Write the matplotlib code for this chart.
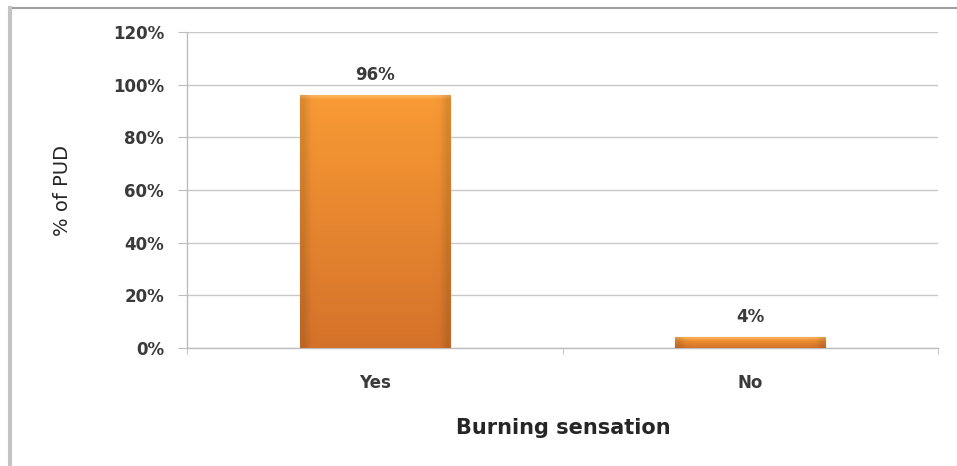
import numpy as np
import matplotlib
matplotlib.use("Agg")
import matplotlib.pyplot as plt
from matplotlib.lines import Line2D
from matplotlib.colors import to_rgb

categories = ["Yes", "No"]
values = [96, 4]
y_ticks = [0, 20, 40, 60, 80, 100, 120]
y_tick_labels = ["0%", "20%", "40%", "60%", "80%", "100%", "120%"]

plt.rcParams["font.family"] = ["DejaVu Sans"]

W, H, DPI = 957, 466, 100
fig = plt.figure(figsize=(W / DPI, H / DPI), dpi=DPI)
ax = fig.add_axes([187 / W, 1 - 348 / H, (938 - 187) / W, (348 - 32) / H])

x = np.arange(len(categories))
bar_w = 0.4
bars = ax.bar(x, values, width=bar_w, color="#F08A2E", edgecolor="#C8651E",
              linewidth=0.8, zorder=3)

# vertical gradient fill with a light bevel at the top
top_c = np.array(to_rgb("#F99B35"))
bot_c = np.array(to_rgb("#D5722A"))
hi_c = np.array(to_rgb("#FCC070"))
for rect in bars:
    n = 200
    t = np.linspace(0, 1, n)[:, None]  # 0 at top, 1 at bottom
    col = top_c * (1 - t) + bot_c * t
    h_px = rect.get_height() * (316 / 120)
    bevel = min(0.35, 4.0 / max(h_px, 1))
    hl = np.clip(1 - t / bevel, 0, 1)
    col = col * (1 - 0.7 * hl) + hi_c * 0.7 * hl
    img = np.repeat(col[:, None, :], 20, axis=1)
    # darken the side edges slightly
    s = np.linspace(0, 1, 20)
    side = 1 - 0.12 * (np.clip(1 - s / 0.06, 0, 1) + np.clip((s - 0.94) / 0.06, 0, 1))
    img = img * side[None, :, None]
    x0 = rect.get_x()
    im = ax.imshow(img, extent=(x0, x0 + rect.get_width(), 0, rect.get_height()),
                   aspect="auto", zorder=3.5, interpolation="bilinear")
    im.set_clip_path(rect)

for xi, v in zip(x, values):
    ax.annotate(f"{v}%", (xi, v), xytext=(0, 8), textcoords="offset points",
                ha="center", va="bottom", fontsize=12, fontweight="bold",
                color="#3A3A3A", zorder=5)

ax.set_xlim(-0.5, len(categories) - 0.5)
ax.set_ylim(0, 120)
ax.set_yticks(y_ticks)
ax.set_yticklabels(y_tick_labels, fontweight="bold")
ax.set_xticks(x)
ax.set_xticklabels(categories, fontweight="bold")
ax.set_xticks(np.arange(len(categories) + 1) - 0.5, minor=True)

ax.grid(axis="y", color="#C8C8C8", linewidth=1.0, zorder=0)
ax.set_axisbelow(True)
for side in ["top", "right"]:
    ax.spines[side].set_visible(False)
for side in ["left", "bottom"]:
    ax.spines[side].set_color("#BDBDBD")
    ax.spines[side].set_linewidth(1.0)

ax.tick_params(axis="y", which="major", length=6.5, color="#BDBDBD", pad=10,
               labelsize=12, labelcolor="#3A3A3A")
ax.tick_params(axis="x", which="major", length=0, pad=19,
               labelsize=12, labelcolor="#3A3A3A")
ax.tick_params(axis="x", which="minor", length=4, color="#BDBDBD")

fig.text(563 / W, 1 - 428 / H, "Burning sensation", ha="center", va="center",
         fontsize=15, fontweight="bold", color="#262626")
fig.text(63 / W, 1 - 190 / H, "% of PUD", ha="center", va="center",
         rotation=90, fontsize=14, color="#262626")

# outer chart-area frame
fig.add_artist(Line2D([11 / W, 1], [1 - 8 / H, 1 - 8 / H], transform=fig.transFigure,
                      color="#9E9E9E", linewidth=1.5))
fig.add_artist(Line2D([10 / W, 10 / W], [0, 1 - 8 / H], transform=fig.transFigure,
                      color="#C4C4C4", linewidth=3))

fig.savefig("out.png", dpi=DPI)
